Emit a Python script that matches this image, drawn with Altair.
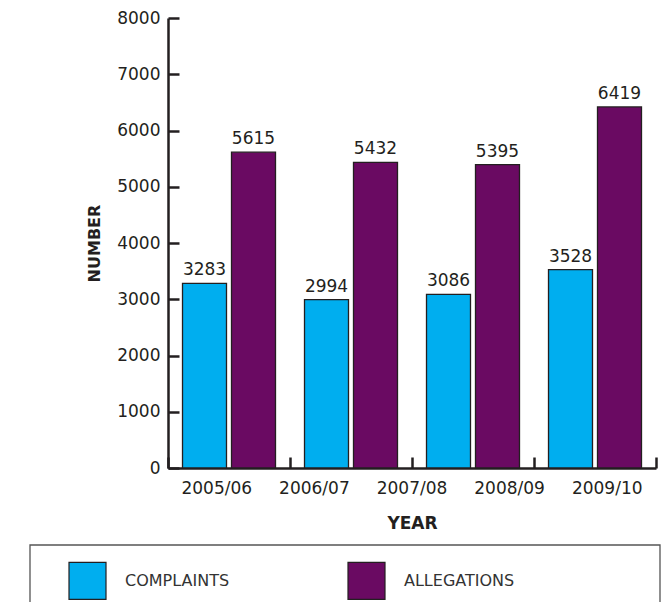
import altair as alt
import pandas as pd

# ---- data ----
groups = ["G1", "G2", "G3", "G4"]
complaints = [3283, 2994, 3086, 3528]
allegations = [5615, 5432, 5395, 6419]
series = ["COMPLAINTS", "ALLEGATIONS"]
year_labels = ["2005/06", "2006/07", "2007/08", "2008/09", "2009/10"]
y_ticks = [0, 1000, 2000, 3000, 4000, 5000, 6000, 7000, 8000]
colors = ["#00AEEF", "#6A0A62"]

rows = []
for g, c, a in zip(groups, complaints, allegations):
    rows.append({"group": g, "series": series[0], "value": c})
    rows.append({"group": g, "series": series[1], "value": a})
df = pd.DataFrame(rows)
labels_df = pd.DataFrame({"year": year_labels})
box_df = pd.DataFrame({"k": [0]})

FONT = "DejaVu Sans"
INK = "#231F20"
W, H = 488, 450

# bar axis: drawn as a top axis pushed down to the bottom so ticks point up
x_bar = alt.X(
    "group:N", sort=groups,
    scale=alt.Scale(paddingInner=0, paddingOuter=0),
    axis=alt.Axis(
        orient="top", offset=-H, title=None, labels=False, tickBand="extent",
        tickSize=11, domainColor=INK, domainWidth=2.5, tickColor=INK, tickWidth=2.5,
    ),
)
x_off = alt.XOffset("series:N", sort=series,
                    scale=alt.Scale(paddingInner=0.102, paddingOuter=0.296))
y_scale = alt.Scale(domain=[0, 8000], nice=False)
y_main = alt.Y(
    "value:Q", scale=y_scale,
    axis=alt.Axis(
        values=y_ticks, format="d", grid=False, title="NUMBER",
        ticks=False, tickSize=0, labelPadding=8,
        domainColor=INK, domainWidth=2.5,
        labelFont=FONT, labelFontSize=17, labelColor=INK,
        titleFont=FONT, titleFontSize=16, titleFontWeight="bold", titleColor=INK,
        titleX=-66, titleY=225, titleAngle=270, titleBaseline="bottom", titleAlign="center",
    ),
)
# inward y ticks: right axis pulled back to the left edge
y_ticks_axis = alt.Y(
    "value:Q", scale=y_scale,
    axis=alt.Axis(
        orient="right", offset=-W, values=y_ticks, grid=False, title=None,
        labels=False, domain=False, tickSize=11, tickColor=INK, tickWidth=2.5,
    ),
)

bars = alt.Chart(df).mark_bar(stroke=INK, strokeWidth=1.3).encode(
    x=x_bar, xOffset=x_off, y=y_main,
    color=alt.Color(
        "series:N", sort=series,
        scale=alt.Scale(domain=series, range=colors),
        legend=alt.Legend(
            orient="none", legendX=-100, legendY=543, direction="horizontal",
            title=None, symbolType="square", symbolSize=1369,
            symbolStrokeColor=INK, symbolStrokeWidth=1.2, symbolOpacity=1,
            labelFont=FONT, labelFontSize=16, labelColor="#333333",
            labelOffset=18, columnPadding=115, padding=0,
        ),
    ),
)

values_text = alt.Chart(df).mark_text(
    baseline="bottom", dy=-4, font=FONT, fontSize=17, color=INK
).encode(x=x_bar, xOffset=x_off, y=y_ticks_axis, text=alt.Text("value:Q"))

year_axis = alt.Chart(labels_df).mark_point(opacity=0).encode(
    x=alt.X(
        "year:N", sort=year_labels,
        scale=alt.Scale(type="band", paddingInner=0, paddingOuter=0),
        axis=alt.Axis(
            orient="bottom", domain=False, ticks=False, tickSize=0,
            labelPadding=12, labelAngle=0,
            labelFont=FONT, labelFontSize=17, labelColor=INK,
            title="YEAR", titleFont=FONT, titleFontSize=17, titleFontWeight="bold",
            titleColor=INK, titleX=244, titleY=60, titleBaseline="alphabetic",
        ),
    ),
    y=alt.value(0),
)

legend_box = alt.Chart(box_df).mark_rect(
    fillOpacity=0, stroke="#555555", strokeWidth=1.3
).encode(
    x=alt.value(-138), x2=alt.value(492), y=alt.value(527), y2=alt.value(700)
)

inner = alt.layer(bars, values_text).resolve_axis(y="independent")

chart = alt.layer(
    inner, year_axis, legend_box
).resolve_scale(x="independent").properties(
    width=W, height=H,
    padding={"left": 160, "top": 10, "right": 5, "bottom": 134},
    autosize=alt.AutoSizeParams(type="none"),
).configure_view(stroke=None)

chart.save("out.html", embed_options={"renderer": "svg", "actions": False})
